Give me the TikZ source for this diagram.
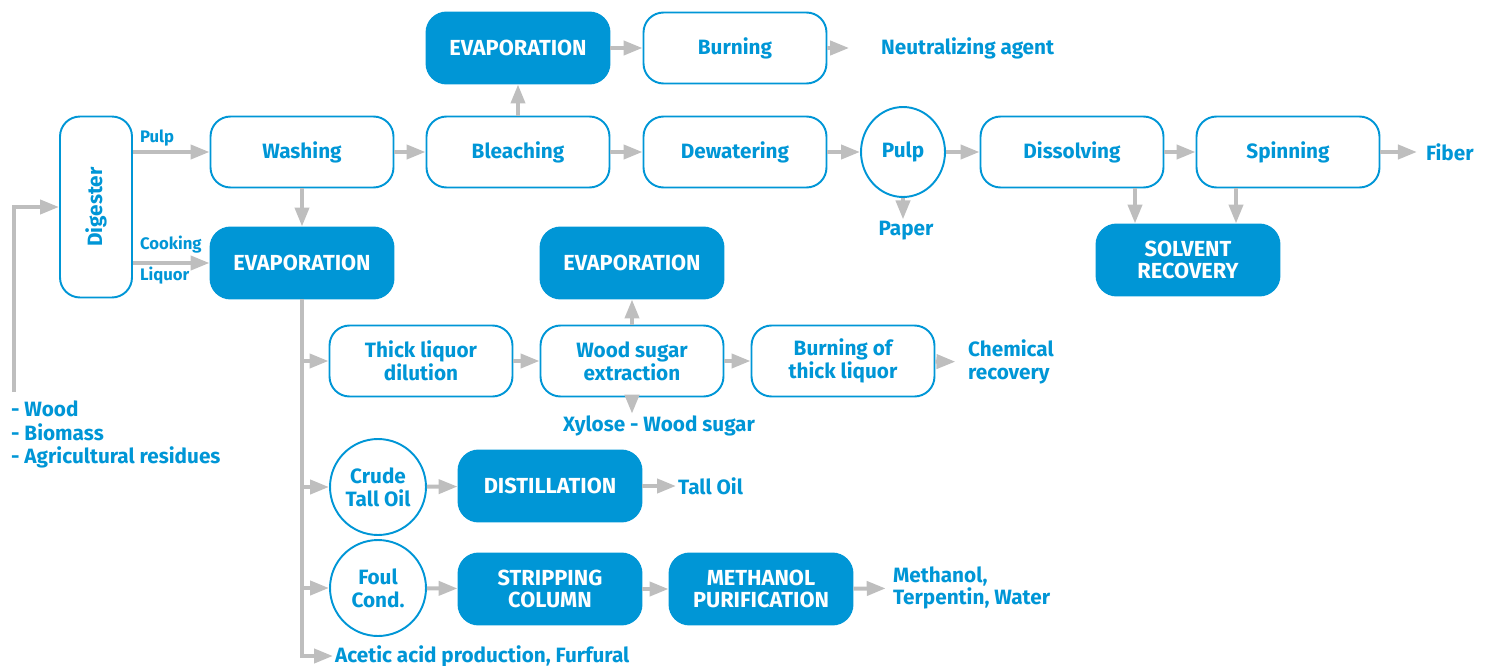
\documentclass[tikz,border=0pt]{standalone}
\usepackage{fontspec}
\setmainfont{Fira Sans}
\usepackage{tikz}
\usetikzlibrary{arrows.meta,shapes.geometric}
\definecolor{procblue}{RGB}{0,150,214}
\definecolor{flowgray}{RGB}{190,190,190}

\begin{document}
\begin{tikzpicture}
    [x=0.02cm,y=-0.02cm,
    font=\bfseries\fontsize{11.8}{13}\selectfont,
    process/.style={draw=procblue,line width=1.1pt,rounded corners=0.4cm,minimum width=3.66cm,minimum height=1.42cm,inner sep=0pt,text=procblue,align=center},
    unit/.style={process,fill=procblue,text=white,font=\bfseries\fontsize{12.4}{13}\selectfont},
    drum/.style={draw=procblue,line width=1.1pt,circle,minimum size=1.92cm,inner sep=0pt,text=procblue,align=center},
    product/.style={text=procblue,align=left,inner sep=1pt},
    small/.style={product,font=\bfseries\fontsize{9.5}{11}\selectfont},
    flow/.style={-{Triangle[length=0.38cm,width=0.28cm]},flowgray,line width=0.08cm}]

\useasboundingbox (0,0) rectangle (1491,666);

%pulp line
\node[process,minimum width=1.44cm,minimum height=3.62cm] (digester) at (96,207) {\rotatebox{90}{Digester}};
\node[process] (washing) at (302,152) {Washing};
\node[process] (bleaching) at (518,152) {Bleaching};
\node[process] (dewatering) at (735,152) {Dewatering};
\node[draw=procblue,line width=1.1pt,ellipse,minimum width=1.68cm,minimum height=1.8cm,inner sep=0pt,text=procblue] (pulp) at (903,152) {Pulp};
\node[process] (dissolving) at (1072,152) {Dissolving};
\node[process] (spinning) at (1288,152) {Spinning};
\node[product,anchor=west] (fiber) at (1424,152) {Fiber};

\node[unit] (evaptop) at (518,48) {EVAPORATION};
\node[process] (burning) at (735,48) {Burning};
\node[product,anchor=west] (neutral) at (879,48) {Neutralizing agent};
\node[product] (paper) at (906,231) {Paper};
\node[unit] (solvent) at (1188,260) {SOLVENT\\RECOVERY};

%liquor line
\node[unit] (evapleft) at (302,263) {EVAPORATION};
\node[unit] (evapmid) at (632,263) {EVAPORATION};
\node[process] (thick) at (421,361) {Thick liquor\\dilution};
\node[process] (sugar) at (632,361) {Wood sugar\\extraction};
\node[process] (burnthick) at (843,361) {Burning of\\thick liquor};
\node[product,anchor=west] (chemical) at (966,362) {Chemical\\recovery};
\node[product] (xylose) at (659,426) {Xylose - Wood sugar};

\node[drum] (crude) at (378,487) {Crude\\Tall Oil};
\node[unit] (distill) at (550,486) {DISTILLATION};
\node[product,anchor=west] (talloil) at (676,486) {Tall Oil};
\node[drum] (foul) at (378,588) {Foul\\Cond.};
\node[unit] (stripping) at (550,589) {STRIPPING\\COLUMN};
\node[unit] (methanol) at (761,589) {METHANOL\\PURIFICATION};
\node[product,anchor=west] (methout) at (891,588) {Methanol,\\Terpentin, Water};
\node[product,anchor=west] (acetic) at (333,656) {Acetic acid production, Furfural};

%feed
\node[product,anchor=north west,font=\bfseries\fontsize{11.8}{13.4}\selectfont] (feedtext) at (9,399) {- Wood\\- Biomass\\- Agricultural residues};
\coordinate (feed) at (14,392);
\node[small,anchor=west] (pulplabel) at (138,138) {Pulp};
\node[small,anchor=west] (cooklabel) at (138,245) {Cooking};
\node[small,anchor=west] (liqlabel) at (138,276) {Liquor};

%flows
\draw[flow] (feed) |- (digester.west);
\draw[flow] (digester.east |- washing) -- (washing);
\draw[flow] (digester.east |- evapleft) -- (evapleft);
\draw[flow] (washing) -- (evapleft);
\draw[flow] (washing) -- (bleaching);
\draw[flow] (bleaching) -- (dewatering);
\draw[flow] (bleaching) -- (evaptop);
\draw[flow] (evaptop) -- (burning);
\draw[flow,shorten >=17pt] (burning) -- (neutral);
\draw[flow] (dewatering) -- (pulp);
\draw[flow] (pulp) -- (pulp.south |- paper.north);
\draw[flow] (pulp) -- (dissolving);
\draw[flow] (dissolving) -- (spinning);
\draw[flow,shorten >=4pt] (spinning) -- (fiber);
\coordinate (dsx) at (1135,0);
\coordinate (spx) at (1236,0);
\draw[flow] (dissolving.south -| dsx) -- (solvent.north -| dsx);
\draw[flow] (spinning.south -| spx) -- (solvent.north -| spx);

\draw[flow] (evapleft.south) |- (acetic.west);
\draw[flow] (evapleft.south |- thick) -- (thick);
\draw[flow] (evapleft.south |- crude) -- (crude);
\draw[flow] (evapleft.south |- foul) -- (foul);
\draw[flow] (thick) -- (sugar);
\draw[flow] (sugar) -- (evapmid);
\draw[flow] (sugar) -- (sugar.south |- xylose.north);
\draw[flow] (sugar) -- (burnthick);
\draw[flow,shorten >=6pt] (burnthick) -- (chemical);
\draw[flow] (crude) -- (distill);
\draw[flow] (distill) -- (talloil);
\draw[flow] (foul) -- (stripping);
\draw[flow] (stripping) -- (methanol);
\draw[flow,shorten >=3pt] (methanol) -- (methout);

\end{tikzpicture}
\end{document}
